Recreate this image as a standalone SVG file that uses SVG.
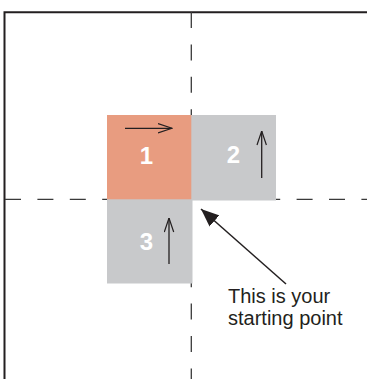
<svg xmlns="http://www.w3.org/2000/svg" width="367" height="379" viewBox="0 0 367 379">
  <style>
    .frame { fill: none; stroke: #231f20; stroke-width: 2; }
    .dash { fill: none; stroke: #3a3a3a; stroke-width: 1.3; stroke-dasharray: 16 16.4; }
    .sq-start { fill: #e89c80; }
    .sq { fill: #c8c9cb; }
    .num { font-family: "Liberation Sans", Arial, sans-serif; font-weight: bold; font-size: 24px; fill: #ffffff; text-anchor: middle; }
    .dir { fill: none; stroke: #231f20; stroke-width: 1.3; marker-end: url(#open); }
    .lead { fill: none; stroke: #231f20; stroke-width: 1.5; marker-end: url(#solid); }
    .note { font-family: "Liberation Sans", Arial, sans-serif; font-size: 20px; fill: #231f20; }
  </style>
  <defs>
    <marker id="open" viewBox="0 0 15 11" refX="14.5" refY="5.5" markerWidth="15" markerHeight="11" markerUnits="userSpaceOnUse" orient="auto">
      <path d="M0.5,0.8 L14.5,5.5 L0.5,10.2" fill="none" stroke="#231f20" stroke-width="1.2"/>
    </marker>
    <marker id="solid" viewBox="0 0 19 15" refX="18" refY="7.5" markerWidth="19" markerHeight="15" markerUnits="userSpaceOnUse" orient="auto">
      <path d="M0,0 L18,7.5 L0,15 Z" fill="#231f20"/>
    </marker>
  </defs>

  <rect x="0" y="0" width="367" height="379" fill="#ffffff"/>

  <g id="frame">
    <path class="frame" d="M4.5,379 V12.3 H367"/>
  </g>

  <g id="axes">
    <line class="dash" x1="191.3" y1="12" x2="191.3" y2="379"/>
    <line class="dash" x1="5" y1="199.3" x2="367" y2="199.3"/>
  </g>

  <g id="square2">
    <rect class="sq" x="190" y="115" width="86" height="85.5"/>
    <text class="num" x="233.5" y="163">2</text>
  </g>
  <g id="square3">
    <rect class="sq" x="107" y="198" width="85.5" height="85.5"/>
    <text class="num" x="146.5" y="250">3</text>
  </g>
  <g id="square1">
    <rect class="sq-start" x="107" y="115" width="84.3" height="84.3"/>
    <text class="num" x="146.5" y="164">1</text>
  </g>

  <g id="connectors">
    <line class="dir" x1="125" y1="128.3" x2="172" y2="128.3"/>
    <line class="dir" x1="261.7" y1="178" x2="261.7" y2="131"/>
    <line class="dir" x1="169" y1="264" x2="169" y2="218"/>
    <line class="lead" x1="286" y1="284" x2="201" y2="209"/>
  </g>

  <g id="label">
    <text class="note" x="228" y="303">This is your</text>
    <text class="note" x="228" y="325">starting point</text>
  </g>
</svg>
